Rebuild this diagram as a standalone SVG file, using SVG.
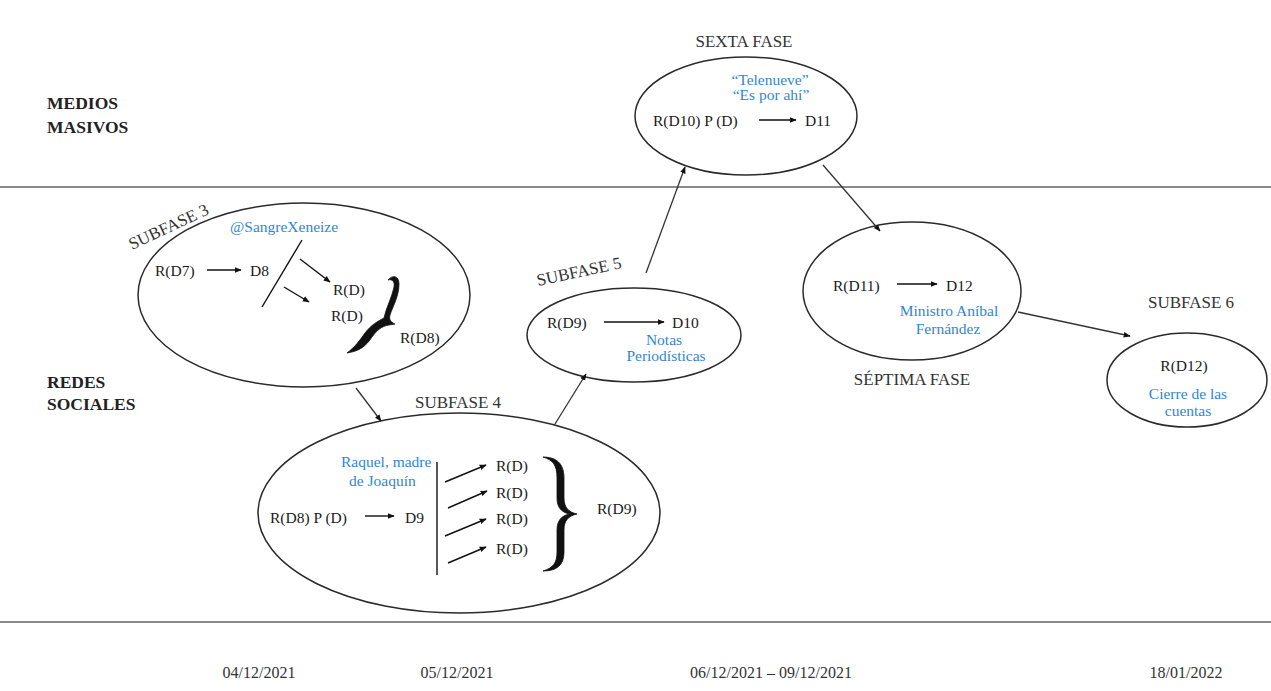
<svg xmlns="http://www.w3.org/2000/svg" width="1271" height="691" viewBox="0 0 1271 691">
<defs>
<marker id="ah" viewBox="0 0 10 10" refX="9" refY="5" markerWidth="7" markerHeight="7" markerUnits="userSpaceOnUse" orient="auto">
<path d="M0,1 L10,5 L0,9 Z" fill="#111"/>
</marker>
<style>
text{font-family:'Liberation Serif','DejaVu Serif','Times New Roman',serif}
.t{font-size:15.5px;fill:#1a1a1a}
.b{font-size:15.5px;fill:#2f87d4}
.h{font-size:17px;fill:#333}
.lab{font-size:17.5px;font-weight:bold;fill:#222}
.d{font-size:16px;fill:#333}
.e{fill:#fff;stroke:#2a2a2a;stroke-width:1.5}
.a{stroke:#111;stroke-width:1.4;fill:none;marker-end:url(#ah)}
.c{stroke:#333;stroke-width:1.3;fill:none;marker-end:url(#ah)}
.ln{stroke:#111;stroke-width:1.4}
.br{fill:#111;stroke:#111;stroke-width:0.8;stroke-linejoin:round}
.sep{stroke:#8a8a8a;stroke-width:2}
</style>
</defs>
<rect width="1271" height="691" fill="#fff"/>
<g id="bands">
<line class="sep" x1="0" y1="187" x2="1271" y2="187"/>
<line class="sep" x1="0" y1="622" x2="1271" y2="622"/>
<text class="lab" x="47" y="109">MEDIOS</text>
<text class="lab" x="47" y="133">MASIVOS</text>
<text class="lab" x="47" y="388">REDES</text>
<text class="lab" x="47" y="410">SOCIALES</text>
</g>
<g id="dates">
<text class="d" x="259" y="678" text-anchor="middle">04/12/2021</text>
<text class="d" x="457" y="678" text-anchor="middle">05/12/2021</text>
<text class="d" x="771" y="678" text-anchor="middle">06/12/2021 – 09/12/2021</text>
<text class="d" x="1186" y="678" text-anchor="middle">18/01/2022</text>
</g>
<g id="subfase3">
<ellipse class="e" cx="304" cy="295" rx="166" ry="92"/>
<text class="h" transform="translate(132,250) rotate(-25)">SUBFASE 3</text>
<text class="b" x="230" y="232">@SangreXeneize</text>
<text class="t" x="155" y="276">R(D7)</text>
<line class="a" x1="207" y1="270" x2="241" y2="270"/>
<text class="t" x="250" y="276">D8</text>
<line class="ln" x1="302" y1="240" x2="262" y2="307"/>
<line class="a" x1="300" y1="259" x2="330" y2="282"/>
<line class="a" x1="284" y1="287" x2="309" y2="302"/>
<text class="t" x="333" y="295">R(D)</text>
<text class="t" x="331" y="321">R(D)</text>
<path class="br" d="M388,280 C392,275 399,275 399,284 C399,296 393,306 390,315 C389,319 390,322 395,324 L389,325 C382,326 377,330 372,337 C366,346 360,351 347,353 C355,347 360,340 365,333 C371,325 378,321 384,318 C386,308 392,297 394,287 C395,281 392,279 388,280 Z"/>
<text class="t" x="400" y="343">R(D8)</text>
</g>
<g id="subfase4">
<ellipse class="e" cx="459" cy="513" rx="201" ry="100"/>
<text class="h" x="458" y="408" text-anchor="middle">SUBFASE 4</text>
<text class="b" x="341" y="467">Raquel, madre</text>
<text class="b" x="349" y="486">de Joaquín</text>
<text class="t" x="270" y="523">R(D8) P (D)</text>
<line class="a" x1="365" y1="516" x2="394" y2="516"/>
<text class="t" x="405" y="523">D9</text>
<line class="ln" x1="437" y1="462" x2="437" y2="575"/>
<line class="a" x1="445" y1="482" x2="486" y2="465"/>
<line class="a" x1="448" y1="508" x2="487" y2="491"/>
<line class="a" x1="445" y1="536" x2="486" y2="519"/>
<line class="a" x1="448" y1="563" x2="486" y2="547"/>
<text class="t" x="496" y="471">R(D)</text>
<text class="t" x="496" y="498">R(D)</text>
<text class="t" x="496" y="524">R(D)</text>
<text class="t" x="496" y="554">R(D)</text>
<path class="br" d="M543,457 C556,457 564,463 564,478 L564,498 C564,507 568,512 577,514 C568,516 564,521 564,530 L564,552 C564,566 556,571 543,571 C553,568 557,563 557,552 L557,530 C557,521 561,516 569,514 C561,512 557,507 557,498 L557,478 C557,465 553,460 543,457 Z"/>
<text class="t" x="597" y="514">R(D9)</text>
</g>
<g id="subfase5">
<ellipse class="e" cx="634" cy="335" rx="107" ry="47"/>
<text class="h" transform="translate(538,286) rotate(-12)">SUBFASE 5</text>
<text class="t" x="547" y="328">R(D9)</text>
<line class="a" x1="604" y1="322" x2="664" y2="322"/>
<text class="t" x="672" y="328">D10</text>
<text class="b" x="664" y="345" text-anchor="middle">Notas</text>
<text class="b" x="666" y="361" text-anchor="middle">Periodísticas</text>
</g>
<g id="sexta">
<ellipse class="e" cx="746" cy="116" rx="111" ry="59"/>
<text class="h" x="744" y="47" text-anchor="middle">SEXTA FASE</text>
<text class="b" x="770" y="85" text-anchor="middle">“Telenueve”</text>
<text class="b" x="771" y="100" text-anchor="middle">“Es por ahí”</text>
<text class="t" x="653" y="126">R(D10) P (D)</text>
<line class="a" x1="759" y1="120" x2="796" y2="120"/>
<text class="t" x="805" y="126">D11</text>
</g>
<g id="septima">
<ellipse class="e" cx="912" cy="291" rx="109" ry="69"/>
<text class="t" x="833" y="291">R(D11)</text>
<line class="a" x1="897" y1="284" x2="937" y2="284"/>
<text class="t" x="946" y="291">D12</text>
<text class="b" x="949" y="316" text-anchor="middle">Ministro Aníbal</text>
<text class="b" x="948" y="334" text-anchor="middle">Fernández</text>
<text class="h" x="912" y="385" text-anchor="middle">SÉPTIMA FASE</text>
</g>
<g id="subfase6">
<ellipse class="e" cx="1187" cy="380" rx="80" ry="47"/>
<text class="h" x="1191" y="308" text-anchor="middle">SUBFASE 6</text>
<text class="t" x="1184" y="371" text-anchor="middle">R(D12)</text>
<text class="b" x="1188" y="399" text-anchor="middle">Cierre de las</text>
<text class="b" x="1188" y="416" text-anchor="middle">cuentas</text>
</g>
<g id="connectors">
<line class="c" x1="356" y1="388" x2="381" y2="421"/>
<line class="c" x1="555" y1="424" x2="586" y2="374"/>
<line class="c" x1="646" y1="273" x2="685" y2="167"/>
<line class="c" x1="823" y1="165" x2="880" y2="231"/>
<line class="c" x1="1018" y1="312" x2="1130" y2="336"/>
</g>
</svg>
